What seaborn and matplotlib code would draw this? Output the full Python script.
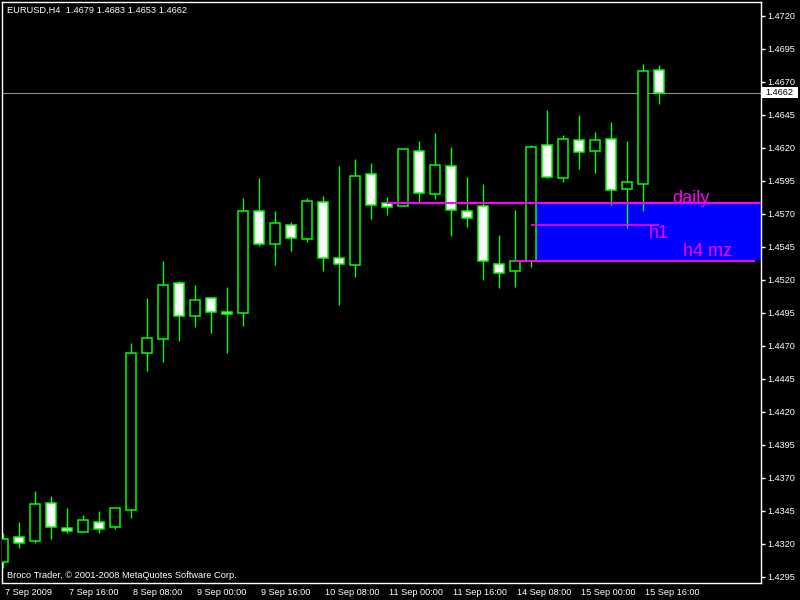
import numpy as np
import matplotlib
matplotlib.use("Agg")
import matplotlib.pyplot as plt
import matplotlib.transforms as mtransforms
from matplotlib.patches import Rectangle
import seaborn as sns

# EURUSD H4, 7 Sep 2009 00:00 .. 15 Sep 2009 20:00 (42 bars)
opens = [1.4306, 1.4325, 1.4322, 1.4351, 1.4332, 1.4329, 1.4337, 1.4333, 1.4346, 1.4465,
         1.4475, 1.4518, 1.4493, 1.4506, 1.4496, 1.4495, 1.4572, 1.4547, 1.4562, 1.4551,
         1.4579, 1.4537, 1.4531, 1.4600, 1.4578, 1.4576, 1.4618, 1.4585, 1.4606, 1.4572,
         1.4576, 1.4532, 1.4527, 1.4534, 1.4622, 1.4597, 1.4626, 1.4618, 1.4627, 1.4589,
         1.4593, 1.4679]
highs = [1.4328, 1.4337, 1.4360, 1.4356, 1.4347, 1.4342, 1.4345, 1.4348, 1.4472, 1.4506,
         1.4534, 1.4519, 1.4516, 1.4507, 1.4515, 1.4582, 1.4597, 1.4572, 1.4564, 1.4582,
         1.4584, 1.4606, 1.4612, 1.4609, 1.4583, 1.4620, 1.4625, 1.4631, 1.4621, 1.4598,
         1.4593, 1.4554, 1.4573, 1.4622, 1.4649, 1.4630, 1.4645, 1.4632, 1.4640, 1.4625,
         1.4684, 1.4683]
lows = [1.4302, 1.4317, 1.4321, 1.4324, 1.4328, 1.4329, 1.4328, 1.4331, 1.4340, 1.4451,
        1.4458, 1.4474, 1.4484, 1.4480, 1.4465, 1.4485, 1.4546, 1.4531, 1.4542, 1.4549,
        1.4527, 1.4501, 1.4522, 1.4566, 1.4569, 1.4576, 1.4579, 1.4581, 1.4553, 1.4560,
        1.4520, 1.4514, 1.4515, 1.4530, 1.4597, 1.4594, 1.4604, 1.4601, 1.4577, 1.4559,
        1.4572, 1.4653]
closes = [1.4324, 1.4321, 1.4350, 1.4333, 1.4330, 1.4338, 1.4331, 1.4347, 1.4465, 1.4476,
          1.4516, 1.4493, 1.4505, 1.4496, 1.4494, 1.4572, 1.4547, 1.4563, 1.4552, 1.4580,
          1.4537, 1.4532, 1.4599, 1.4577, 1.4575, 1.4619, 1.4586, 1.4607, 1.4573, 1.4567,
          1.4534, 1.4525, 1.4534, 1.4621, 1.4598, 1.4627, 1.4617, 1.4626, 1.4588, 1.4594,
          1.4678, 1.4662]

time_ticks = [0, 4, 8, 12, 16, 20, 24, 28, 32, 36, 40]
time_labels = ["7 Sep 2009", "7 Sep 16:00", "8 Sep 08:00", "9 Sep 00:00", "9 Sep 16:00",
               "10 Sep 08:00", "11 Sep 00:00", "11 Sep 16:00", "14 Sep 08:00",
               "15 Sep 00:00", "15 Sep 16:00"]
price_ticks = [1.4295, 1.4320, 1.4345, 1.4370, 1.4395, 1.4420, 1.4445, 1.4470, 1.4495,
               1.4520, 1.4545, 1.4570, 1.4595, 1.4620, 1.4645, 1.4670, 1.4695, 1.4720]

last_price = 1.4662

# zones drawn by hand on the chart
zone_start, zone_top, zone_bottom = 33, 1.4578, 1.4535
daily_level, daily_start = 1.4578, 24
h1_level, h1_start, h1_end = 1.4562, 33, 41
h4_level, h4_start, h4_end = 1.4534, 32, 47

sns.set_style("dark", rc={"axes.facecolor": "black", "figure.facecolor": "black",
                          "axes.edgecolor": "white", "xtick.color": "white",
                          "ytick.color": "white", "text.color": "white"})
plt.rcParams["font.family"] = ["Liberation Sans", "DejaVu Sans"]

lime = "#00FF00"
mag = "#FF00FF"

fig = plt.figure(figsize=(8, 6), dpi=100)
ax = fig.add_axes([2 / 800, 17.5 / 600, 758.5 / 800, 580.5 / 600])

x = np.arange(len(opens))
o = np.array(opens)
c = np.array(closes)
bull = c >= o

# zone rectangle behind the candles
ax.add_patch(Rectangle((zone_start, zone_bottom), 60, zone_top - zone_bottom,
                       facecolor="#0000FF", edgecolor="none", zorder=1))

# current price line
ax.axhline(last_price, color="#8C8C8C", lw=0.8, zorder=1.5)

# wicks + bodies
ax.vlines(x, lows, highs, color=lime, lw=1.0, zorder=2)
ax.bar(x, c - o, bottom=o, width=0.6, color=np.where(bull, "black", "white"),
       edgecolor=lime, linewidth=1.1, zorder=3)

# zone lines
ax.hlines(daily_level, daily_start, 60, color=mag, lw=1.5, zorder=4)
ax.hlines(h1_level, h1_start, h1_end, color=mag, lw=1.2, zorder=4)
ax.hlines(h4_level, h4_start, h4_end, color=mag, lw=1.4, zorder=4)
ax.text(41.8, 1.45783, "daily", color=mag, fontsize=13, va="baseline", zorder=5)
ax.text(40.35, 1.4552, "h1", color=mag, fontsize=13, va="baseline", zorder=5)
ax.text(42.5, 1.4538, "h4 mz", color=mag, fontsize=13, va="baseline", zorder=5)

ax.set_xlim(-0.081, 47.325)
ax.set_ylim(1.42908, 1.47306)

ax.yaxis.tick_right()
ax.set_yticks(price_ticks)
ax.set_yticklabels([f"{p:.4f}" for p in price_ticks])
ax.set_xticks(time_ticks)
ax.set_xticklabels(time_labels, ha="left")
ax.tick_params(axis="both", which="major", length=3, width=1, color="white",
               labelsize=6.6, labelcolor="white", direction="out")
ax.tick_params(axis="y", pad=2)
ax.tick_params(axis="x", pad=1)
shift = mtransforms.ScaledTranslation(2 / 100, 0, fig.dpi_scale_trans)
for lab in ax.get_xticklabels():
    lab.set_transform(lab.get_transform() + shift)
ax.grid(False)
for sp in ax.spines.values():
    sp.set_color("white")
    sp.set_linewidth(1)
    sp.set_visible(True)

# last price tag on the scale
fig.patches.append(Rectangle((762 / 800, 1 - 98 / 600), 36 / 800, 11 / 600,
                             transform=fig.transFigure, facecolor="white",
                             edgecolor="none", zorder=5))
tag_tr = mtransforms.blended_transform_factory(fig.transFigure, ax.transData)
fig.text(765 / 800, last_price, f"{last_price:.4f}", transform=tag_tr, fontsize=6.6,
         color="black", va="center", ha="left", zorder=6)

fig.text(7 / 800, 1 - 10.7 / 600, "EURUSD,H4  1.4679 1.4683 1.4653 1.4662",
         fontsize=6.7, color="white", va="center", ha="left")
fig.text(6.7 / 800, 1 - 575 / 600, "Broco Trader, © 2001-2008 MetaQuotes Software Corp.",
         fontsize=6.7, color="white", va="center", ha="left")

fig.savefig("out.png", dpi=100, facecolor="black")
